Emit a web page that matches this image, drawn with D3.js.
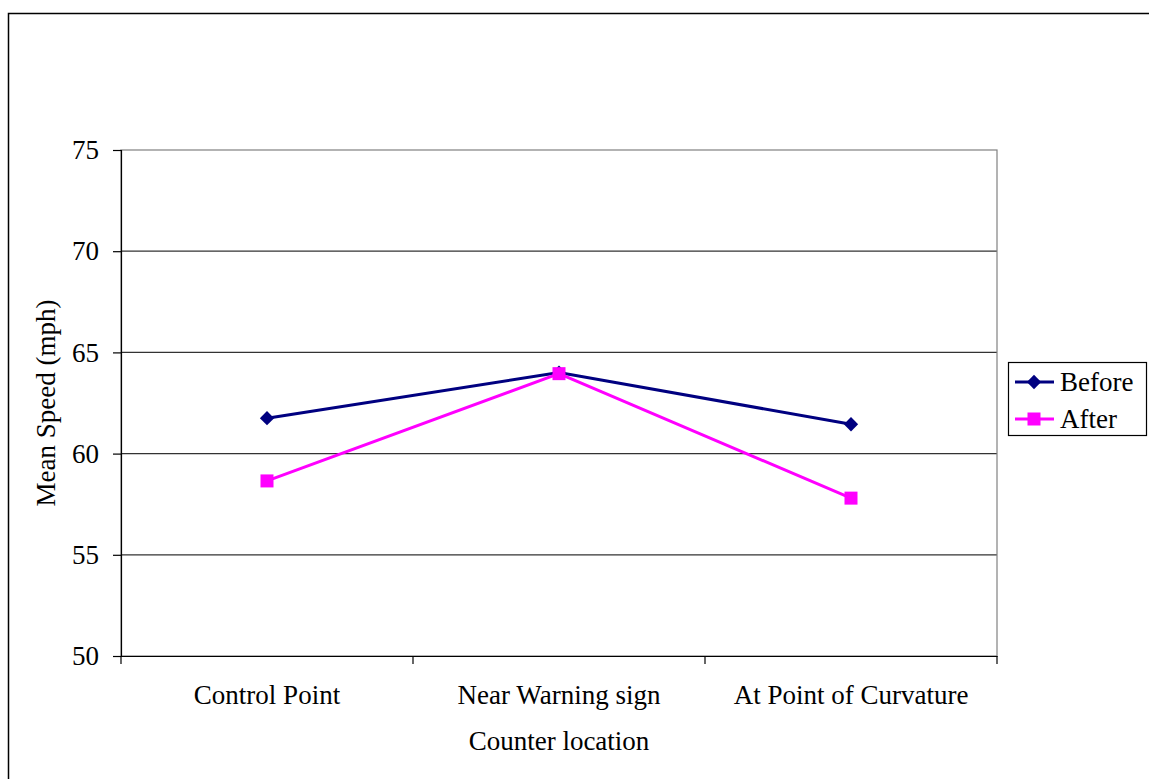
<!DOCTYPE html>
<html><head><meta charset="utf-8">
<script src="https://cdn.jsdelivr.net/npm/d3@7"></script>
<style>body{margin:0;background:#fff}svg{display:block}text{font-family:"Liberation Serif","Times New Roman",serif;fill:#000}</style>
</head><body><svg id="c" width="1149" height="779"></svg>
<script>
const categories = ["Control Point", "Near Warning sign", "At Point of Curvature"];
const beforeValues = [61.75, 64.0, 61.45];
const afterValues = [58.65, 63.95, 57.8];
const yTicks = [50, 55, 60, 65, 70, 75];
const seriesNames = ["Before", "After"];

const svg = d3.select("#c");
const L = 121, T = 150, R = 997, B = 656;
const fs = 27;

svg.append("rect").attr("x", 8.5).attr("y", 13.5).attr("width", 1160).attr("height", 780)
  .attr("fill", "#fff").attr("stroke", "#000").attr("stroke-width", 1.5);

const x = d3.scaleBand().domain(categories).range([L, R]);
const y = d3.scaleLinear().domain([50, 75]).range([B, T]);

// gridlines
svg.append("g").selectAll("line").data(yTicks.filter(v => v > 50 && v < 75)).join("line")
  .attr("x1", L).attr("x2", R).attr("y1", d => y(d)).attr("y2", d => y(d))
  .attr("stroke", "#333").attr("stroke-width", 1.2);
// plot border
svg.append("rect").attr("x", L).attr("y", T).attr("width", R - L).attr("height", B - T)
  .attr("fill", "none").attr("stroke", "#808080").attr("stroke-width", 1.2);

// y axis
const ya = svg.append("g").attr("transform", `translate(${L},0)`)
  .call(d3.axisLeft(y).tickValues(yTicks).tickSize(8).tickPadding(14));
ya.select(".domain").attr("stroke", "#000").attr("stroke-width", 1.2);
ya.selectAll(".tick line").attr("stroke", "#000").attr("stroke-width", 1.2);
ya.selectAll("text").style("font-size", fs + "px").style("font-family", "Liberation Serif").attr("fill", "#000");

// x axis
const xa = svg.append("g").attr("transform", `translate(0,${B})`)
  .call(d3.axisBottom(x).tickSize(0).tickPadding(29));
xa.select(".domain").attr("stroke", "#000").attr("stroke-width", 1.2);
xa.selectAll("text").style("font-size", fs + "px").style("font-family", "Liberation Serif").attr("fill", "#000");
const edges = [L].concat(categories.map(c => x(c) + x.bandwidth()));
svg.append("g").selectAll("line").data(edges).join("line")
  .attr("x1", d => d).attr("x2", d => d).attr("y1", B).attr("y2", B + 8)
  .attr("stroke", "#000").attr("stroke-width", 1.2);

// titles
svg.append("text").attr("x", (L + R) / 2).attr("y", 750).attr("text-anchor", "middle")
  .style("font-size", fs + "px").text("Counter location");
svg.append("text").attr("transform", `translate(55,${(T + B) / 2}) rotate(-90)`)
  .attr("text-anchor", "middle").style("font-size", fs + "px").text("Mean Speed (mph)");

const cx = c => x(c) + x.bandwidth() / 2;
const line = d3.line().x(d => cx(d.c)).y(d => y(d.v));
const bData = categories.map((c, i) => ({c, v: beforeValues[i]}));
const aData = categories.map((c, i) => ({c, v: afterValues[i]}));

svg.append("path").datum(bData).attr("d", line).attr("fill", "none").attr("stroke", "#000080").attr("stroke-width", 3);
svg.append("path").datum(aData).attr("d", line).attr("fill", "none").attr("stroke", "#ff00ff").attr("stroke-width", 3);

const diamond = d3.symbol().type(d3.symbolDiamond2).size(130);
svg.append("g").selectAll("path").data(bData).join("path")
  .attr("transform", d => `translate(${cx(d.c)},${y(d.v)})`).attr("d", diamond).attr("fill", "#000080");
svg.append("g").selectAll("rect").data(aData).join("rect")
  .attr("x", d => cx(d.c) - 6.5).attr("y", d => y(d.v) - 6.5).attr("width", 13).attr("height", 13).attr("fill", "#ff00ff");

// legend
const lg = svg.append("g");
lg.append("rect").attr("x", 1008.5).attr("y", 362.5).attr("width", 138).attr("height", 73)
  .attr("fill", "#fff").attr("stroke", "#000").attr("stroke-width", 1.2);
const colors = ["#000080", "#ff00ff"];
seriesNames.forEach((n, i) => {
  const yy = 382 + i * 37;
  lg.append("line").attr("x1", 1015).attr("x2", 1054).attr("y1", yy).attr("y2", yy)
    .attr("stroke", colors[i]).attr("stroke-width", 3);
  if (i === 0) lg.append("path").attr("transform", `translate(1034,${yy})`).attr("d", diamond).attr("fill", colors[i]);
  else lg.append("rect").attr("x", 1034 - 6.5).attr("y", yy - 6.5).attr("width", 13).attr("height", 13).attr("fill", colors[i]);
  lg.append("text").attr("x", 1060).attr("y", yy + 9).style("font-size", fs + "px").text(n);
});
</script></body></html>
